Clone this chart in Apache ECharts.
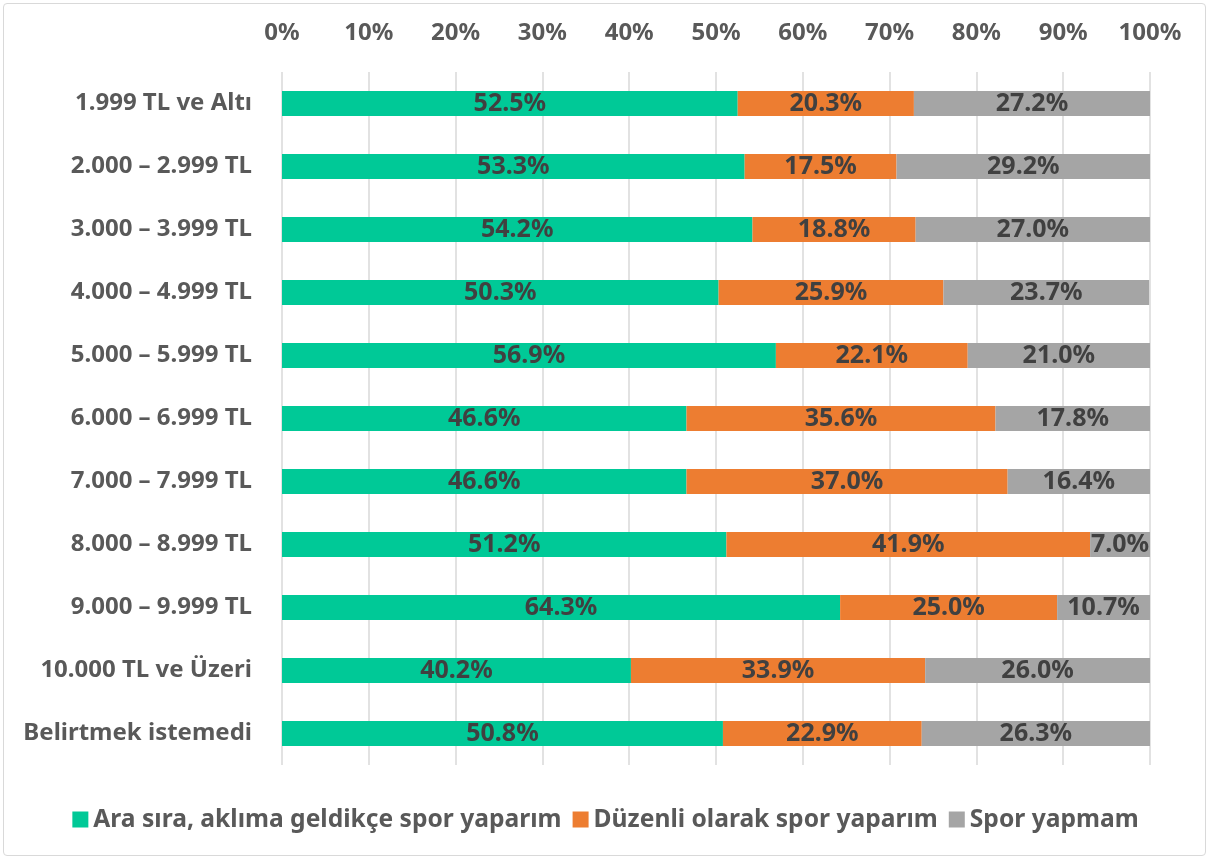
<!DOCTYPE html>
<html><head><meta charset="utf-8">
<script src="https://cdn.jsdelivr.net/npm/echarts@6/dist/echarts.min.js"></script>
<style>
html,body{margin:0;padding:0;background:#fff;}
#frame{position:absolute;left:3px;top:3px;width:1203px;height:853px;border:1px solid #d9d9d9;border-radius:4px;box-sizing:border-box;}
#c{position:absolute;left:0;top:0;width:1211px;height:861px;}
</style></head>
<body>
<div id="frame"></div>
<div id="c"></div>
<script>
const categories = ["1.999 TL ve Altı","2.000 – 2.999 TL","3.000 – 3.999 TL","4.000 – 4.999 TL","5.000 – 5.999 TL","6.000 – 6.999 TL","7.000 – 7.999 TL","8.000 – 8.999 TL","9.000 – 9.999 TL","10.000 TL ve Üzeri","Belirtmek istemedi"];
const araSira = [52.5,53.3,54.2,50.3,56.9,46.6,46.6,51.2,64.3,40.2,50.8];
const duzenli = [20.3,17.5,18.8,25.9,22.1,35.6,37.0,41.9,25.0,33.9,22.9];
const sporYapmam = [27.2,29.2,27.0,23.7,21.0,17.8,16.4,7.0,10.7,26.0,26.3];
const seriesNames = ["Ara sıra, aklıma geldikçe spor yaparım","Düzenli olarak spor yaparım","Spor yapmam"];
const colors = ["#00C997","#ED7D31","#A5A5A5"];

const FONT = "Noto Sans";
const chart = echarts.init(document.getElementById('c'), null, {renderer:'canvas'});
const lbl = {show:true, position:'inside', formatter: p => p.value.toFixed(1)+'%', fontFamily:FONT, fontWeight:'bold', fontSize:25, color:'#404040'};
function mk(name, data, color){
  return {name, type:'bar', stack:'t', data, barWidth:25, itemStyle:{color}, label:lbl, emphasis:{disabled:true}};
}
chart.setOption({
  animation:false,
  color: colors,
  grid:{left:282, right:61, top:72, bottom:96, containLabel:false},
  xAxis:{type:'value', position:'top', min:0, max:100, interval:10,
    axisLabel:{formatter:'{value}%', fontFamily:FONT, fontWeight:'bold', fontSize:24, color:'#595959', margin:27},
    axisLine:{show:false}, axisTick:{show:false},
    splitLine:{show:true, lineStyle:{color:'#d9d9d9', width:1.5}}},
  yAxis:{type:'category', data:categories, inverse:true,
    axisLabel:{fontFamily:FONT, fontWeight:'bold', fontSize:24, color:'#595959', margin:30},
    axisLine:{show:false}, axisTick:{show:false}},
  legend:{bottom:24, left:'center', itemWidth:16, itemHeight:16, itemGap:11, icon:'rect',
    textStyle:{fontFamily:FONT, fontWeight:'bold', fontSize:24.6, color:'#595959'}},
  series:[mk(seriesNames[0],araSira,colors[0]), mk(seriesNames[1],duzenli,colors[1]), mk(seriesNames[2],sporYapmam,colors[2])]
});
</script>
</body></html>
